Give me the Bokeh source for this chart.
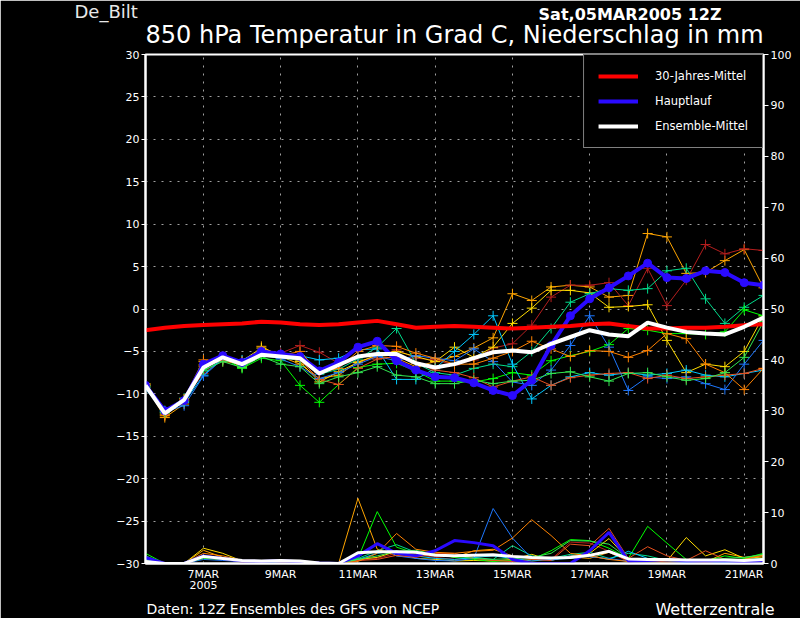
from bokeh.plotting import figure
from bokeh.models import Range1d, LinearAxis, FixedTicker, Title, Legend, LegendItem
from bokeh.embed import file_html
from bokeh.resources import INLINE

# Zeitachse: alle 12 Stunden ab 5.3. 12Z (Tag im Maerz)
tage = [5.5 + 0.5 * i for i in range(33)]

datum_ticks = [7, 9, 11, 13, 15, 17, 19, 21]
# leere dritte Zeile haelt unten Platz fuer die Fusszeile frei
datum_labels = ["7MAR\n2005\n", "9MAR", "11MAR", "13MAR", "15MAR", "17MAR", "19MAR", "21MAR"]

# 850 hPa Temperatur (Grad C)
klima = [-2.5, -2.2, -2.0, -1.9, -1.8, -1.7, -1.5, -1.6, -1.8, -1.9, -1.8, -1.6, -1.4, -1.8, -2.2, -2.1, -2.0,
         -2.1, -2.2, -2.3, -2.2, -2.1, -2.0, -1.8, -1.7, -2.0, -2.3, -2.3, -2.2, -2.2, -2.1, -1.9, -1.8]
hauptlauf = [-9.0, -12.0, -10.8, -6.5, -5.5, -6.3, -5.0, -5.3, -5.6, -7.3, -6.3, -4.5, -3.8, -6.1, -7.2, -8.0, -8.1,
             -8.7, -9.6, -10.2, -8.4, -4.3, -0.8, 1.2, 2.5, 3.9, 5.4, 3.7, 3.6, 4.5, 4.3, 3.1, 2.8]
ens_mittel = [-9.0, -12.3, -10.7, -6.9, -5.7, -6.5, -5.4, -5.6, -5.8, -7.6, -6.6, -5.6, -5.3, -5.3, -6.4, -6.9, -6.5,
              -5.8, -5.1, -4.9, -5.1, -4.1, -3.3, -2.5, -3.0, -3.2, -1.6, -2.2, -2.7, -2.9, -3.0, -2.1, -1.0]

lauf_01 = [-9.0, -12.8, -11.2, -6.2, -5.8, -6.8, -4.4, -5.6, -6.5, -8.2, -7.8, -6.2, -5.6, -5.8, -6.8, -6.2, -5.6,
           -4.6, -3.4, 1.8, 1.0, 2.6, 2.8, 2.6, 1.4, 1.6, 8.9, 8.5, 4.2, 4.3, 5.7, 7.0, 2.5]
lauf_02 = [-9.2, -12.2, -10.6, -7.6, -5.9, -6.2, -5.5, -5.2, -4.3, -5.1, -6.4, -6.3, -5.6, -4.8, -5.8, -6.0, -6.6,
           -6.0, -4.6, -4.1, -1.9, 1.4, 2.8, 2.8, 3.1, 0.4, 4.8, 0.4, 3.4, 7.6, 6.5, 7.1, 6.9]
lauf_03 = [-8.8, -12.5, -10.8, -6.6, -5.6, -6.1, -4.6, -5.4, -6.2, -8.6, -7.4, -6.3, -5.4, -5.0, -5.6, -6.2, -4.5,
           -5.7, -4.5, -1.7, 0.1, 2.2, 2.2, 1.9, 0.2, 0.3, 0.5, -3.7, -7.5, -6.5, -6.8, -5.0, -0.8]
lauf_04 = [-9.0, -12.0, -10.5, -7.3, -6.0, -6.6, -5.5, -5.8, -6.0, -7.7, -7.1, -5.9, -4.5, -2.3, -6.4, -7.5, -7.8,
           -7.0, -6.5, -6.8, -5.0, -2.3, 0.8, 1.8, 2.4, 2.2, 2.4, 4.5, 4.8, 1.2, -1.7, 0.2, 1.6]
lauf_05 = [-9.2, -12.3, -10.8, -7.0, -5.8, -7.0, -5.8, -6.1, -9.0, -11.0, -8.9, -6.9, -6.5, -6.4, -7.3, -8.5, -8.5,
           -8.6, -8.2, -7.5, -7.8, -6.1, -5.5, -5.0, -4.2, -2.3, -2.5, -2.9, -2.9, -3.0, -2.7, -0.1, -0.8]
lauf_06 = [-9.5, -12.0, -11.0, -7.8, -5.8, -6.0, -5.0, -5.7, -5.5, -6.0, -5.8, -4.8, -4.7, -8.3, -8.3, -7.0, -5.0,
           -3.0, -0.8, -6.5, -10.6, -9.0, -8.0, -7.5, -7.8, -7.5, -7.8, -7.6, -7.2, -7.8, -8.0, -7.6, -7.2]
lauf_07 = [-9.3, -12.1, -11.4, -7.9, -5.9, -6.4, -5.3, -5.9, -6.8, -8.2, -7.5, -6.5, -5.6, -6.1, -5.5, -5.8, -6.1,
           -4.7, -6.2, -8.6, -9.0, -7.2, -4.3, -0.8, -4.5, -9.6, -8.0, -8.2, -8.0, -8.8, -9.5, -6.5, -3.7]
lauf_08 = [-9.0, -12.4, -10.8, -6.8, -6.0, -6.2, -5.0, -5.6, -6.0, -8.3, -8.9, -7.0, -5.9, -5.6, -6.4, -7.2, -7.5,
           -8.1, -9.2, -8.5, -8.0, -9.0, -8.1, -7.8, -7.6, -7.5, -8.2, -7.8, -8.2, -8.0, -7.8, -7.6, -7.0]
lauf_09 = [-8.9, -12.6, -10.6, -6.0, -6.2, -6.4, -5.2, -5.5, -5.0, -7.5, -7.0, -5.0, -4.3, -4.4, -5.2, -5.8, -6.5,
           -6.5, -5.8, -5.0, -3.8, -4.7, -5.6, -4.9, -5.0, -5.7, -4.9, -2.9, -3.5, -6.5, -7.5, -9.5, -7.0]
lauf_10 = [-9.1, -12.2, -10.9, -7.2, -6.2, -6.9, -5.6, -6.5, -6.8, -8.8, -8.0, -7.5, -6.8, -7.8, -8.0, -8.8, -8.8,
           -8.4, -8.8, -8.5, -8.4, -7.6, -7.4, -8.0, -8.5, -7.6, -7.5, -8.0, -8.4, -8.2, -7.5, -5.7, -1.5]

# Niederschlag (mm / 12h)
nied_haupt = [1.2, 0, 0, 1.5, 1.0, 0.5, 0.4, 0.6, 0.3, 0.1, 0, 1.5, 3.9, 2.0, 1.5, 2.5, 4.5,
              4.1, 3.5, 0.8, 0, 0, 0, 2.5, 6.1, 0.5, 0.6, 0.8, 0.5, 0.5, 0.6, 0.3, 0.6]
nied_mittel = [0.4, 0, 0, 1.4, 1.0, 0.6, 0.5, 0.6, 0.5, 0.1, 0, 2.1, 2.3, 2.3, 2.2, 1.6, 1.5,
               1.6, 1.7, 1.4, 1.2, 1.1, 1.2, 1.6, 2.4, 0.9, 0.8, 0.8, 0.7, 0.7, 0.7, 0.6, 0.8]
nied_01 = [0.5, 0, 0, 2.6, 1.2, 0.5, 0.4, 0.5, 0.3, 0.1, 0, 12.8, 2.8, 1.5, 1.3, 2.0, 1.2,
           2.5, 2.8, 1.5, 1.0, 0.8, 1.3, 1.0, 2.2, 0.5, 0.4, 0.3, 0.5, 0.3, 2.0, 1.2, 1.6]
nied_02 = [0.3, 0, 0, 1.0, 0.8, 0.3, 0.3, 0.2, 0.2, 0, 0, 0.6, 1.0, 2.0, 1.8, 1.2, 0.8,
           1.0, 0.6, 0.4, 0.5, 0.8, 4.2, 4.0, 2.4, 0.3, 0.6, 0.3, 0.2, 0.4, 0.3, 0.2, 0.5]
nied_03 = [0.4, 0, 0, 3.0, 2.0, 0.5, 0.3, 0.6, 0.4, 0, 0, 0.8, 1.2, 2.4, 1.0, 0.8, 0.5,
           0.6, 0.5, 0.8, 1.8, 0.6, 1.5, 2.0, 4.9, 0.8, 0.4, 0.5, 5.1, 1.5, 2.7, 1.0, 1.3]
nied_04 = [0.6, 0, 0, 1.2, 0.8, 0.4, 0.3, 0.4, 0.3, 0, 0, 1.0, 2.5, 3.7, 2.2, 1.8, 1.4,
           1.2, 0.8, 3.5, 1.5, 1.0, 1.8, 2.2, 1.0, 2.0, 1.5, 0.6, 0.4, 0.5, 0.6, 0.8, 1.0]
nied_05 = [2.0, 0, 0, 1.2, 1.0, 0.6, 0.3, 0.4, 0.5, 0, 0, 1.0, 10.2, 3.2, 2.0, 1.8, 1.2,
           0.8, 0.4, 0.6, 0.8, 2.5, 4.7, 4.5, 3.0, 1.0, 7.3, 4.0, 0.8, 0.5, 1.5, 1.0, 2.0]
nied_06 = [1.0, 0, 0, 1.5, 1.0, 0.5, 0.4, 0.6, 0.5, 0, 0, 0.8, 2.0, 2.5, 1.5, 1.0, 0.8,
           1.2, 1.5, 1.0, 0.5, 0.8, 1.0, 1.5, 0.8, 2.4, 1.0, 0.5, 0.3, 0.5, 0.4, 0.6, 0.8]
nied_07 = [0.8, 0, 0, 0.8, 0.6, 0.4, 0.2, 0.3, 0.4, 0, 0, 1.2, 3.9, 1.5, 1.0, 0.6, 0.5,
           1.0, 10.8, 5.0, 1.0, 0.6, 1.5, 1.3, 1.0, 0.4, 0.6, 0.3, 0.2, 0.3, 0.2, 0.3, 0.4]
nied_08 = [0.4, 0, 0, 1.6, 1.0, 0.4, 0.3, 0.5, 0.4, 0, 0, 0.6, 0.8, 1.6, 1.2, 2.0, 2.0,
           1.0, 0.6, 0.4, 0.8, 0.6, 3.8, 3.5, 6.9, 1.0, 3.3, 1.5, 0.6, 2.5, 0.8, 0.6, 0.5]
nied_09 = [0.5, 0, 0, 2.0, 1.5, 0.6, 0.3, 0.6, 0.5, 0, 0, 0.4, 2.0, 5.9, 2.8, 2.2, 2.0,
           2.4, 2.6, 5.0, 8.6, 5.5, 2.0, 1.5, 0.8, 0.4, 0.6, 0.3, 0.4, 0.3, 0.5, 0.8, 1.6]
nied_10 = [1.5, 0, 0, 1.0, 0.8, 0.5, 0.3, 0.4, 0.3, 0, 0, 0.8, 1.5, 2.4, 2.6, 1.8, 1.5,
           1.0, 0.8, 1.0, 1.2, 2.0, 4.5, 4.4, 3.8, 1.0, 0.8, 0.6, 0.4, 0.5, 1.0, 1.2, 1.8]

farben = ["#FFA500", "#B41E1E", "#FFDC00", "#00DC8C", "#00FF00",
          "#00C8FF", "#1E78FF", "#E6501E", "#FF8200", "#32E650"]
laeufe = [lauf_01, lauf_02, lauf_03, lauf_04, lauf_05, lauf_06, lauf_07, lauf_08, lauf_09, lauf_10]
nieds = [nied_01, nied_02, nied_03, nied_04, nied_05, nied_06, nied_07, nied_08, nied_09, nied_10]

BLAU = "#2A0AFF"
SCHRIFT = "DejaVu Sans"

p = figure(width=800, height=618, x_range=Range1d(5.5, 21.5), y_range=Range1d(-30, 30),
           output_backend="svg", toolbar_location=None,
           background_fill_color="black", border_fill_color="black",
           outline_line_color="white", outline_line_width=2,
           min_border_left=145, min_border_right=37, min_border_top=54, min_border_bottom=55)
p.extra_y_ranges = {"nied": Range1d(0, 100)}

# Achsen
p.xaxis.ticker = FixedTicker(ticks=datum_ticks)
p.xaxis.major_label_overrides = dict(zip(datum_ticks, datum_labels))
p.yaxis.ticker = FixedTicker(ticks=list(range(-30, 31, 5)))

rechts = LinearAxis(y_range_name="nied", ticker=FixedTicker(ticks=list(range(0, 101, 10))))
p.add_layout(rechts, "right")

for ax in p.axis:
    ax.axis_line_color = "white"
    ax.axis_line_width = 2
    ax.minor_tick_line_color = None
    ax.major_tick_in = 0
    ax.major_tick_out = 4
    ax.major_tick_line_color = "white"
    ax.major_label_standoff = 2
    ax.major_label_text_color = "white"
    ax.major_label_text_font = SCHRIFT
    ax.major_label_text_font_size = "11px"
rechts.major_tick_out = 5
p.xaxis.major_tick_out = 0
p.xaxis.major_tick_line_color = None
p.xaxis.major_label_standoff = 4
p.xaxis.major_label_text_line_height = 0.9

p.xgrid.ticker = FixedTicker(ticks=datum_ticks)
p.ygrid.ticker = FixedTicker(ticks=list(range(-25, 30, 5)))
for g in (p.xgrid, p.ygrid):
    g.grid_line_color = "#A0A0A0"
    g.grid_line_dash = "2 6"
    g.grid_line_width = 1

# Ensemble-Laeufe: Temperatur mit Kreuzen, Niederschlag duenn
for werte, nied, farbe in zip(laeufe, nieds, farben):
    p.line(tage, werte, line_color=farbe, line_width=1)
    p.scatter(tage, werte, marker="cross", size=10, line_color=farbe, line_width=1)
    p.line(tage, nied, line_color=farbe, line_width=1, y_range_name="nied")

p.line(tage, nied_haupt, line_color=BLAU, line_width=3, y_range_name="nied")
p.line(tage, nied_mittel, line_color="white", line_width=3, y_range_name="nied")

r_haupt = p.line(tage, hauptlauf, line_color=BLAU, line_width=4)
p.scatter(tage, hauptlauf, marker="circle", size=8, fill_color=BLAU, line_color=BLAU)
r_klima = p.line(tage, klima, line_color="#FF0000", line_width=4)
r_mittel = p.line(tage, ens_mittel, line_color="white", line_width=4)

legende = Legend(items=[LegendItem(label="30-Jahres-Mittel", renderers=[r_klima]),
                        LegendItem(label="Hauptlauf", renderers=[r_haupt]),
                        LegendItem(label="Ensemble-Mittel", renderers=[r_mittel])],
                 location="top_right", margin=0, padding=14, spacing=11,
                 glyph_width=40, glyph_height=14, label_height=14, label_standoff=17,
                 label_text_color="white", label_text_font=SCHRIFT, label_text_font_size="11.5px",
                 background_fill_color="black", background_fill_alpha=1,
                 border_line_color="white", border_line_width=1.5)
p.add_layout(legende)

# Titelzeilen oben (die beiden obersten teilen sich eine Zeile)
p.add_layout(Title(text="850 hPa Temperatur in Grad C, Niederschlag in mm", align="left", offset=0,
                   text_font=SCHRIFT, text_font_size="24px", text_font_style="normal",
                   text_color="white", vertical_align="middle", standoff=10), "above")
p.add_layout(Title(text="Sat,05MAR2005 12Z", align="right", offset=42,
                   text_font=SCHRIFT, text_font_size="16px", text_font_style="bold",
                   text_color="white", vertical_align="bottom", standoff=-19), "above")
p.add_layout(Title(text="De_Bilt", align="left", offset=-71,
                   text_font=SCHRIFT, text_font_size="18px", text_font_style="normal",
                   text_color="#E8E8E8", vertical_align="middle", standoff=-21), "above")

# Fusszeile (beide Texte auf einer Hoehe)
p.add_layout(Title(text="Daten: 12Z Ensembles des GFS von NCEP", align="left", offset=1,
                   text_font=SCHRIFT, text_font_size="14px", text_font_style="normal",
                   text_color="white", vertical_align="bottom", standoff=-16), "below")
p.add_layout(Title(text="Wetterzentrale", align="right", offset=-11,
                   text_font=SCHRIFT, text_font_size="16px", text_font_style="normal",
                   text_color="white", vertical_align="top", standoff=-18), "below")

html = file_html(p, INLINE).replace("<body>", '<body style="background-color:#000000; margin:0;">', 1)
open("out.html", "w").write(html)
